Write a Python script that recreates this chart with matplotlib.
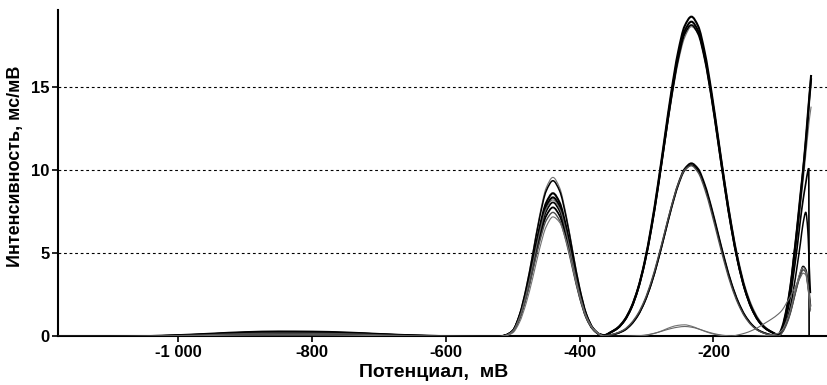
import numpy as np
import matplotlib
matplotlib.use("Agg")
from matplotlib import pyplot as plt
from matplotlib.path import Path
from matplotlib.patches import PathPatch

plt.rcParams['font.family'] = ['Liberation Sans', 'DejaVu Sans']
plt.rcParams['font.weight'] = 'bold'

# %%
# potential grid (mV), split into regions
baseline_mv = [-1180, -1100, -1050, -1000, -950, -900, -850, -800, -750, -700, -650, -600, -550]
first_peak_mv = [-520, -510, -500, -490, -480, -470, -460, -450, -440, -430, -420, -410, -400, -390, -380, -370]
second_peak_mv = [-363, -353, -343, -333, -323, -313, -303, -293, -283, -273, -263, -253, -243, -233,
                  -223, -213, -203, -193, -183, -173, -163, -153, -143, -133, -123, -113, -103]
tail_mv = [-97, -91, -85, -80, -75, -70, -66, -62, -59, -57.5, -57, -55, -54]

# intensity (ms/mV), one row per curve
baseline_curves = [
    [0, 0.0, 0.01, 0.03, 0.06, 0.09, 0.1, 0.1, 0.08, 0.05, 0.02, 0.01, 0],
    [0, 0.0, 0.0, 0.01, 0.03, 0.04, 0.05, 0.05, 0.04, 0.03, 0.01, 0.0, 0],
    [0, 0.01, 0.02, 0.08, 0.17, 0.26, 0.3, 0.29, 0.24, 0.15, 0.07, 0.02, 0.01],
    [0, 0.0, 0.02, 0.06, 0.14, 0.21, 0.25, 0.24, 0.2, 0.13, 0.06, 0.02, 0.0],
    [0, 0.01, 0.02, 0.07, 0.15, 0.24, 0.28, 0.27, 0.22, 0.14, 0.06, 0.02, 0.01],
    [0, 0.0, 0.01, 0.04, 0.08, 0.13, 0.15, 0.15, 0.12, 0.08, 0.03, 0.01, 0],
    [0, 0.0, 0.02, 0.05, 0.11, 0.17, 0.2, 0.19, 0.16, 0.1, 0.04, 0.01, 0],
    [0, 0.0, 0.01, 0.03, 0.06, 0.09, 0.1, 0.1, 0.08, 0.05, 0.02, 0.01, 0],
    [0, 0, 0, 0, 0.01, 0.02, 0.02, 0.02, 0.02, 0.01, 0, 0, 0],
]
first_peak_curves = [
    [0, 0.1, 0.38, 1.34, 2.96, 5.06, 7.26, 8.93, 9.55, 8.93, 7.26, 5.06, 2.96, 1.38, 0.53, 0.14],
    [0, 0.09, 0.37, 1.31, 2.9, 4.96, 7.11, 8.74, 9.35, 8.74, 7.11, 4.96, 2.9, 1.36, 0.51, 0.14],
    [0, 0.09, 0.34, 1.2, 2.67, 4.56, 6.54, 8.04, 8.6, 8.04, 6.54, 4.56, 2.67, 1.25, 0.47, 0.13],
    [0, 0.08, 0.33, 1.17, 2.59, 4.43, 6.35, 7.81, 8.35, 7.81, 6.35, 4.43, 2.59, 1.21, 0.46, 0.13],
    [0, 0.08, 0.32, 1.13, 2.5, 4.27, 6.12, 7.53, 8.05, 7.53, 6.12, 4.27, 2.5, 1.17, 0.44, 0.12],
    [0, 0.08, 0.31, 1.09, 2.4, 4.11, 5.89, 7.25, 7.75, 7.25, 5.89, 4.11, 2.4, 1.12, 0.43, 0.12],
    [0, 0.07, 0.3, 1.04, 2.31, 3.95, 5.66, 6.97, 7.45, 6.97, 5.66, 3.95, 2.31, 1.08, 0.41, 0.11],
    [0, 0.05, 0.22, 0.85, 2.0, 3.55, 5.25, 6.6, 7.18, 6.85, 5.7, 4.05, 2.45, 1.2, 0.5, 0.15],
    [0, 0.08, 0.33, 1.15, 2.54, 4.35, 6.23, 7.67, 8.2, 7.67, 6.23, 4.35, 2.54, 1.19, 0.45, 0.12],
]
second_peak_curves = [
    [0.1, 0.3, 0.58, 1.05, 1.82, 2.95, 4.5, 6.5, 8.9, 11.55, 14.15, 16.4, 17.95, 18.6,
     18.2, 16.8, 14.6, 12.0, 9.3, 6.8, 4.7, 3.05, 1.9, 1.1, 0.6, 0.3, 0.12],
    [0.04, 0.09, 0.2, 0.38, 0.72, 1.26, 2.06, 3.15, 4.53, 6.09, 7.66, 9.03, 9.97, 10.3,
     9.97, 9.03, 7.66, 6.09, 4.53, 3.15, 2.06, 1.26, 0.72, 0.38, 0.2, 0.09, 0.04],
    [0.08, 0.27, 0.52, 0.98, 1.73, 2.86, 4.47, 6.59, 9.12, 11.92, 14.69, 17.05, 18.64, 19.2,
     18.64, 17.05, 14.69, 11.92, 9.12, 6.59, 4.47, 2.86, 1.73, 0.98, 0.52, 0.27, 0.1],
    [0.08, 0.26, 0.51, 0.96, 1.7, 2.82, 4.4, 6.48, 8.98, 11.74, 14.46, 16.78, 18.35, 18.9,
     18.35, 16.78, 14.46, 11.74, 8.98, 6.48, 4.4, 2.82, 1.7, 0.96, 0.51, 0.26, 0.1],
    [0.08, 0.26, 0.5, 0.95, 1.68, 2.79, 4.36, 6.41, 8.88, 11.61, 14.31, 16.61, 18.16, 18.7,
     18.16, 16.61, 14.31, 11.61, 8.88, 6.41, 4.36, 2.79, 1.68, 0.95, 0.5, 0.26, 0.1],
    [0.04, 0.09, 0.2, 0.38, 0.73, 1.27, 2.08, 3.18, 4.58, 6.15, 7.74, 9.12, 10.07, 10.4,
     10.07, 9.12, 7.74, 6.15, 4.58, 3.18, 2.08, 1.27, 0.73, 0.38, 0.2, 0.09, 0.04],
    [0.05, 0.11, 0.23, 0.43, 0.8, 1.36, 2.18, 3.3, 4.7, 6.25, 7.8, 9.13, 10.0, 10.25,
     9.85, 8.85, 7.45, 5.88, 4.35, 3.0, 1.95, 1.18, 0.67, 0.35, 0.18, 0.08, 0.03],
    [0, 0, 0, 0, 0.01, 0.03, 0.06, 0.14, 0.25, 0.41, 0.57, 0.67, 0.7, 0.62,
     0.47, 0.31, 0.18, 0.09, 0.04, 0.01, 0, 0, 0, 0.02, 0.05, 0.1, 0.2],
    [0, 0, 0, 0.01, 0.02, 0.04, 0.08, 0.15, 0.25, 0.37, 0.48, 0.56, 0.6, 0.56,
     0.46, 0.33, 0.21, 0.12, 0.06, 0.03, 0.1, 0.2, 0.35, 0.55, 0.8, 1.05, 1.35],
]
nan = float('nan')
tail_curves = [
    [0.4, 1.3, 2.6, 4.2, 5.9, 7.8, 9.3, 10.9, 12.1, 12.7, 12.9, 13.5, 13.8],
    [0.3, 0.9, 1.8, 2.9, 4.2, 5.6, 6.8, 7.45, 6.4, 5.0, 4.4, 2.6, nan],
    [0.6, 1.6, 3.0, 4.7, 6.5, 8.5, 10.0, 11.8, 13.3, 14.0, 14.25, 15.2, 15.7],
    [0.5, 1.5, 2.9, 4.6, 6.4, 8.3, 9.9, 11.6, 13.0, 13.8, 14.1, 15.0, 15.5],
    [0.4, 1.2, 2.4, 3.8, 5.3, 7.0, 8.2, 9.2, 9.9, 10.1, 0, nan, nan],
    [0.3, 0.8, 1.5, 2.3, 3.1, 3.8, 4.2, 4.0, 3.3, 2.8, 2.6, 1.8, nan],
    [0.25, 0.7, 1.4, 2.2, 3.0, 3.65, 4.0, 3.85, 3.1, 2.6, 2.4, 1.6, nan],
    [0.4, 0.9, 1.6, 2.4, 3.2, 3.9, 4.15, 3.95, 3.2, 2.7, 2.5, 1.7, nan],
    [1.6, 2.0, 2.4, 2.8, 3.2, 3.55, 3.8, 3.7, 3.0, 2.5, 2.3, 1.5, nan],
]

x_ticks = [-1000, -800, -600, -400, -200]
x_tick_labels = ['-1 000', '-800', '-600', '-400', '-200']
y_ticks = [0, 5, 10, 15]

# line look per curve
colors = ['0.45', 'black', 'black', 'black', 'black', 'black', '0.3', '0.45', '0.4']
widths = [0.8, 1.1, 1.5, 1.5, 1.2, 1.3, 1.0, 0.8, 0.8]


# %%
# draw a smooth (monotone cubic) line through the measured points
def smooth_path(xs, ys):
    verts, codes = [], []
    ok = ~np.isnan(ys)
    xs, ys = xs[ok], ys[ok]
    h = np.diff(xs)
    d = np.diff(ys) / h
    m = np.zeros(len(xs))
    m[0], m[-1] = d[0], d[-1]
    for k in range(1, len(xs) - 1):
        if d[k - 1] * d[k] > 0:
            w1 = 2 * h[k] + h[k - 1]
            w2 = h[k] + 2 * h[k - 1]
            m[k] = (w1 + w2) / (w1 / d[k - 1] + w2 / d[k])
    verts.append((xs[0], ys[0]))
    codes.append(Path.MOVETO)
    for k in range(len(h)):
        verts += [(xs[k] + h[k] / 3, ys[k] + m[k] * h[k] / 3),
                  (xs[k + 1] - h[k] / 3, ys[k + 1] - m[k + 1] * h[k] / 3),
                  (xs[k + 1], ys[k + 1])]
        codes += [Path.CURVE4] * 3
    return Path(verts, codes)


fig = plt.figure(figsize=(8.28, 3.85), dpi=100)
ax = fig.add_axes([0.070, 0.126, 0.929, 0.848])

x_all = np.array(baseline_mv + first_peak_mv + second_peak_mv + tail_mv, dtype=float)
for i in range(len(baseline_curves)):
    y_all = np.array(baseline_curves[i] + first_peak_curves[i] + second_peak_curves[i] + tail_curves[i], dtype=float)
    ax.add_patch(PathPatch(smooth_path(x_all, y_all), fill=False, edgecolor=colors[i],
                           lw=widths[i], zorder=3, capstyle='butt'))

for yv in y_ticks[1:]:
    ax.axhline(yv, color='black', lw=0.8, ls=(0, (2.5, 2.5)), zorder=1)

ax.set_xlim(-1180, -30)
ax.set_ylim(0, 19.6)
ax.set_xticks(x_ticks)
ax.set_xticklabels(x_tick_labels)
ax.set_yticks(y_ticks)
ax.tick_params(axis='both', labelsize=12, width=1.2, length=4, direction='out', pad=2)
ax.spines['top'].set_visible(False)
ax.spines['right'].set_visible(False)
ax.spines['left'].set_linewidth(1.5)
ax.spines['bottom'].set_linewidth(1.5)

ax.set_xlabel('Потенциал,  мВ', fontsize=14, fontweight='bold')
ax.xaxis.set_label_coords(0.489, -0.085)
ax.set_ylabel('Интенсивность, мс/мВ', fontsize=13, fontweight='bold')
ax.yaxis.set_label_coords(-0.044, 0.52)

fig.savefig('out.png', dpi=100)
